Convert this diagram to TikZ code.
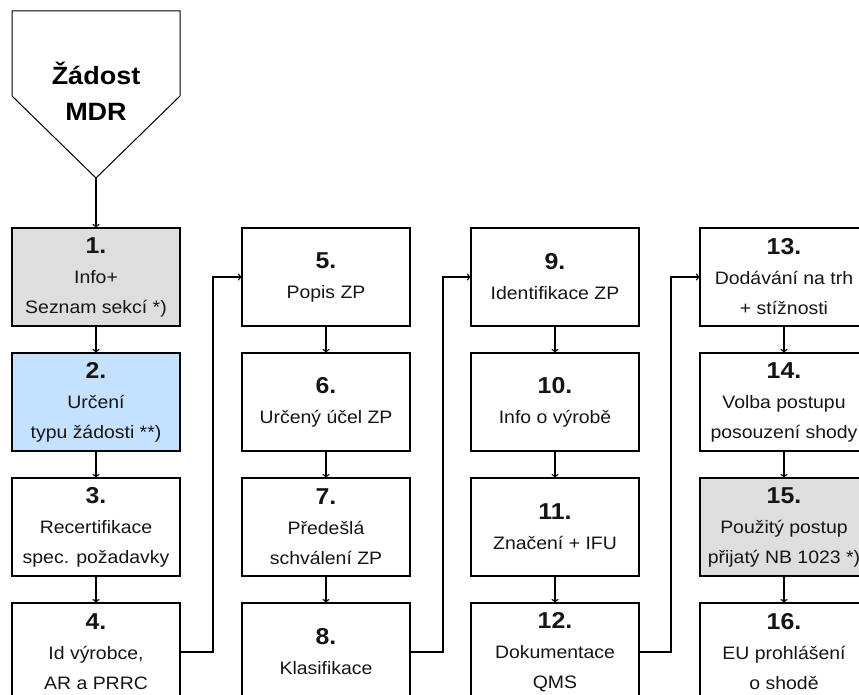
\documentclass[tikz,border=0pt]{standalone}
\usepackage{fontspec}
\setmainfont[FakeStretch=1.08]{Liberation Sans}
\usetikzlibrary{arrows.meta}
\definecolor{boxgray}{HTML}{DEDEDE}
\definecolor{boxblue}{HTML}{C4E1FF}
\definecolor{txt}{HTML}{151515}
\begin{document}
\begin{tikzpicture}[x=1pt,y=-1pt,
  stepbox/.style={draw=black, line width=1.3pt, minimum width=168pt, minimum height=98pt, inner sep=0pt, outer sep=0pt, anchor=north west},
  boxtext/.style={align=center, text=txt, font=\fontsize{18}{30}\selectfont, inner sep=0pt},
  arr/.style={line width=1.1pt, -{To[length=4pt,width=7pt]}},
  link/.style={line width=1.1pt, -{To[length=4pt,width=7pt]}}]
\useasboundingbox (0,0) rectangle (859,695);
\fill[white] (0,0) rectangle (859,695);
% start pentagon
\draw[line width=1pt, fill=white] (12,11) -- (180,11) -- (180,96) -- (96,178) coordinate (apex) -- (12,96) -- cycle;
\node[align=center, font=\fontsize{25}{36}\selectfont\bfseries] (title) at (96,91) {Žádost\\MDR};
\newcommand{\num}[1]{{\fontsize{23}{30}\selectfont\bfseries #1}}
% column 1
\node[stepbox, fill=boxgray] (b1) at (12,228) {};
\node[stepbox, fill=boxblue] (b2) at (12,353) {};
\node[stepbox, fill=white] (b3) at (12,478) {};
\node[stepbox, fill=white] (b4) at (12,603) {};
% column 2
\node[stepbox, fill=white] (b5) at (242,228) {};
\node[stepbox, fill=white] (b6) at (242,353) {};
\node[stepbox, fill=white] (b7) at (242,478) {};
\node[stepbox, fill=white] (b8) at (242,603) {};
% column 3
\node[stepbox, fill=white] (b9) at (471,228) {};
\node[stepbox, fill=white] (b10) at (471,353) {};
\node[stepbox, fill=white] (b11) at (471,478) {};
\node[stepbox, fill=white] (b12) at (471,603) {};
% column 4
\node[stepbox, fill=white] (b13) at (700,228) {};
\node[stepbox, fill=white] (b14) at (700,353) {};
\node[stepbox, fill=boxgray] (b15) at (700,478) {};
\node[stepbox, fill=white] (b16) at (700,603) {};
% texts
\node[boxtext] (t1) at (b1.center) {\num{1.}\\Info+\\Seznam sekcí *)};
\node[boxtext] (t2) at (b2.center) {\num{2.}\\Určení\\typu žádosti **)};
\node[boxtext] (t3) at (b3.center) {\num{3.}\\Recertifikace\\spec. požadavky};
\node[boxtext] (t4) at (b4.center) {\num{4.}\\Id výrobce,\\AR a PRRC};
\node[boxtext] (t5) at (b5.center) {\num{5.}\\Popis ZP};
\node[boxtext] (t6) at (b6.center) {\num{6.}\\Určený účel ZP};
\node[boxtext] (t7) at (b7.center) {\num{7.}\\Předešlá\\schválení ZP};
\node[boxtext] (t8) at (b8.center) {\num{8.}\\Klasifikace};
\node[boxtext] (t9) at (b9.center) {\num{9.}\\Identifikace ZP};
\node[boxtext] (t10) at (b10.center) {\num{10.}\\Info o výrobě};
\node[boxtext] (t11) at (b11.center) {\num{11.}\\Značení + IFU};
\node[boxtext] (t12) at (b12.center) {\num{12.}\\Dokumentace\\QMS};
\node[boxtext] (t13) at (b13.center) {\num{13.}\\Dodávání na trh\\+ stížnosti};
\node[boxtext] (t14) at (b14.center) {\num{14.}\\Volba postupu\\posouzení shody};
\node[boxtext] (t15) at (b15.center) {\num{15.}\\Použitý postup\\přijatý NB 1023 *)};
\node[boxtext] (t16) at (b16.center) {\num{16.}\\EU prohlášení\\o shodě};
% vertical arrows
\draw[arr] (apex) -- (b1.north);
\foreach \a/\b in {b1/b2,b2/b3,b3/b4,b5/b6,b6/b7,b7/b8,b9/b10,b10/b11,b11/b12,b13/b14,b14/b15,b15/b16}
  \draw[arr] (\a.south) -- (\b.north);
% column links
\coordinate (j1) at (213,0);
\coordinate (j2) at (443,0);
\coordinate (j3) at (671,0);
\draw[link] (b4.east) -| (j1 |- b5.west) -- (b5.west);
\draw[link] (b8.east) -| (j2 |- b9.west) -- (b9.west);
\draw[link] (b12.east) -| (j3 |- b13.west) -- (b13.west);
\end{tikzpicture}
\end{document}
